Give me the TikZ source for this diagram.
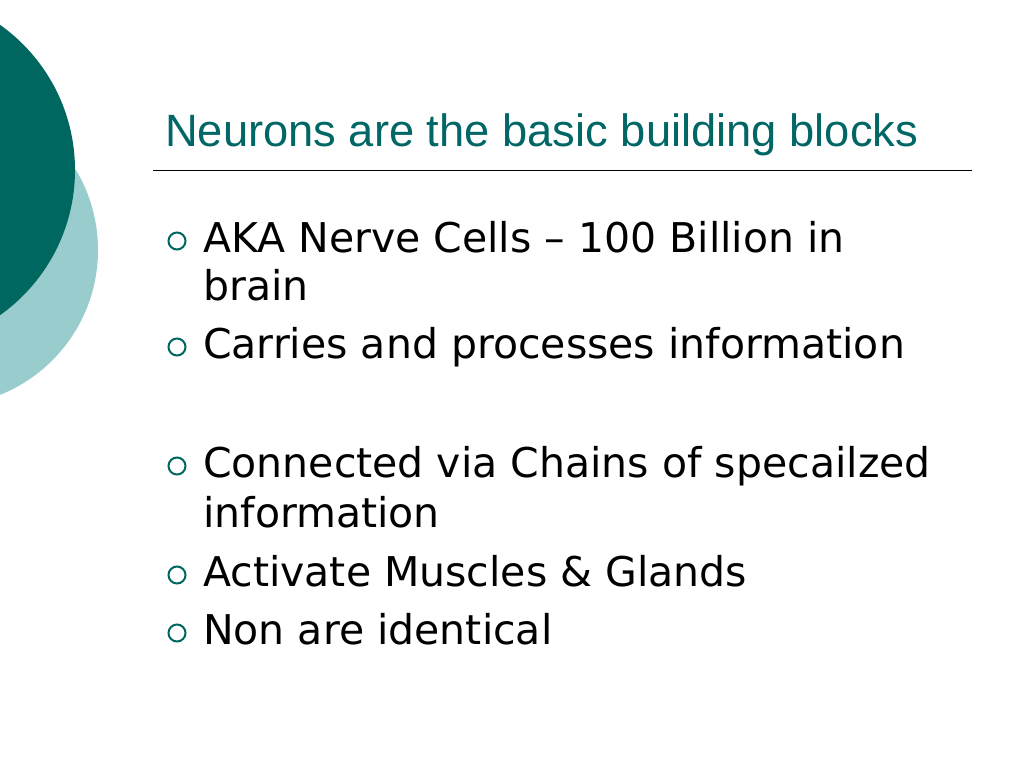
\documentclass[tikz,border=0pt]{standalone}
\usepackage{fontspec}
\setmainfont{DejaVu Sans}
\newfontfamily\titlefont{Liberation Sans}
\definecolor{darkteal}{HTML}{006660}
\definecolor{lightteal}{HTML}{99CCCC}
\definecolor{titleteal}{HTML}{006666}
\begin{document}
\begin{tikzpicture}[x=1pt,y=-1pt,
  bodytext/.style={anchor=base west,inner sep=0pt,font=\fontsize{41}{48}\selectfont,text=black},
  bulletmark/.style={circle,draw=darkteal,line width=2pt,minimum size=17pt,inner sep=0pt}]
\useasboundingbox (0,0) rectangle (1024,768);
\fill[white] (0,0) rectangle (1024,768);
\begin{scope}
\clip (0,0) rectangle (1024,768);
\fill[lightteal] (-58,250) circle (156);
\fill[darkteal] (-103,170) circle (178);
\end{scope}
\node[anchor=base west,inner sep=0pt,text=titleteal,font=\titlefont\fontsize{45.3}{52}\selectfont] (title) at (165,146) {Neurons are the basic building blocks};
\coordinate (ruleL) at (153,170);
\coordinate (ruleR) at (972,170);
\draw[line width=1pt] (ruleL) -- (ruleR);
\node[bodytext] (t1) at (203,252) {AKA Nerve Cells – 100 Billion in};
\node[bodytext] (t1b) at (203,300) {brain};
\node[bodytext] (t2) at (203,358) {Carries and processes information};
\node[bodytext] (t3) at (203,477) {Connected via Chains of specailzed};
\node[bodytext] (t3b) at (203,527) {information};
\node[bodytext] (t4) at (203,586) {Activate Muscles \& Glands};
\node[bodytext] (t5) at (203,644) {Non are identical};
\node[bulletmark] (b1) at (177,241) {};
\node[bulletmark] (b2) at (177,347) {};
\node[bulletmark] (b3) at (177,466) {};
\node[bulletmark] (b4) at (177,575) {};
\node[bulletmark] (b5) at (177,633) {};
\end{tikzpicture}
\end{document}
